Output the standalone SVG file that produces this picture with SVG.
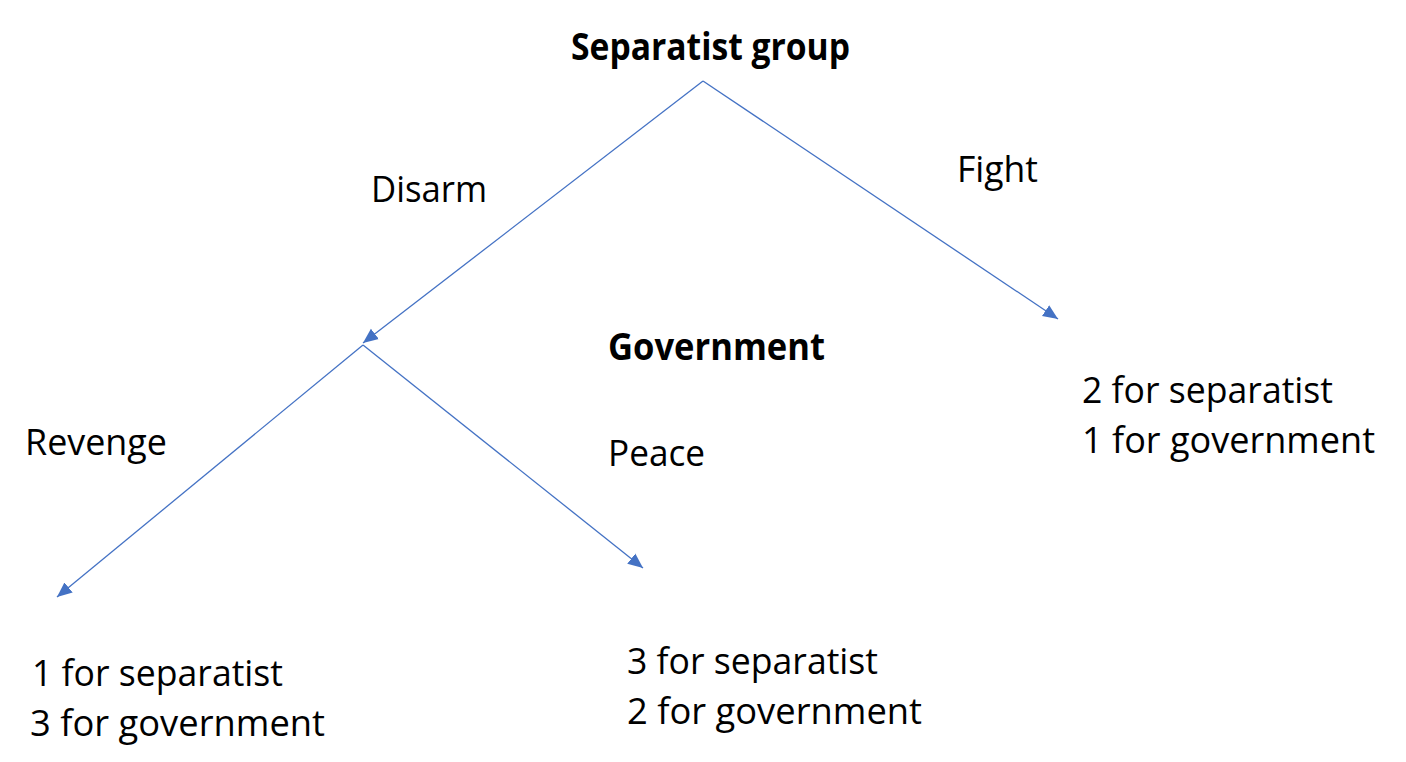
<svg xmlns="http://www.w3.org/2000/svg" width="1406" height="762" viewBox="0 0 1406 762">
<style>
text{font-family:"Open Sans","Noto Sans","Liberation Sans",sans-serif;font-size:37px;fill:#000}
.b{font-weight:bold}
.c{stroke:#4472C4;stroke-width:1.3;fill:none}
</style>
<defs>
<marker id="ah" markerUnits="userSpaceOnUse" markerWidth="16" markerHeight="14" refX="15" refY="7" orient="auto">
<path d="M0,0.5 L15,7 L0,13.5 z" fill="#4472C4"/>
</marker>
</defs>
<rect width="1406" height="762" fill="#fff"/>
<g id="connectors">
<line class="c" x1="703" y1="81" x2="363" y2="343" marker-end="url(#ah)"/>
<line class="c" x1="703" y1="81" x2="1058" y2="319" marker-end="url(#ah)"/>
<line class="c" x1="363" y1="345" x2="57" y2="597" marker-end="url(#ah)"/>
<line class="c" x1="363" y1="345" x2="643" y2="568" marker-end="url(#ah)"/>
</g>
<g id="separatist"><text class="b" x="571" y="60" textLength="279" lengthAdjust="spacingAndGlyphs">Separatist group</text></g>
<g id="disarm-label"><text x="371" y="202" textLength="116" lengthAdjust="spacingAndGlyphs">Disarm</text></g>
<g id="fight-label"><text x="957" y="182" textLength="81" lengthAdjust="spacingAndGlyphs">Fight</text></g>
<g id="government"><text class="b" x="608" y="360" textLength="217" lengthAdjust="spacingAndGlyphs">Government</text></g>
<g id="revenge-label"><text x="25" y="455" textLength="142" lengthAdjust="spacingAndGlyphs">Revenge</text></g>
<g id="peace-label"><text x="608" y="466" textLength="97" lengthAdjust="spacingAndGlyphs">Peace</text></g>
<g id="fight-outcome">
<text x="1082" y="403" textLength="251" lengthAdjust="spacingAndGlyphs">2 for separatist</text>
<text x="1082" y="453" textLength="293" lengthAdjust="spacingAndGlyphs">1 for government</text>
</g>
<g id="revenge-outcome">
<text x="32" y="686" textLength="251" lengthAdjust="spacingAndGlyphs">1 for separatist</text>
<text x="30" y="736" textLength="295" lengthAdjust="spacingAndGlyphs">3 for government</text>
</g>
<g id="peace-outcome">
<text x="627" y="674" textLength="251" lengthAdjust="spacingAndGlyphs">3 for separatist</text>
<text x="627" y="724" textLength="295" lengthAdjust="spacingAndGlyphs">2 for government</text>
</g>
</svg>
